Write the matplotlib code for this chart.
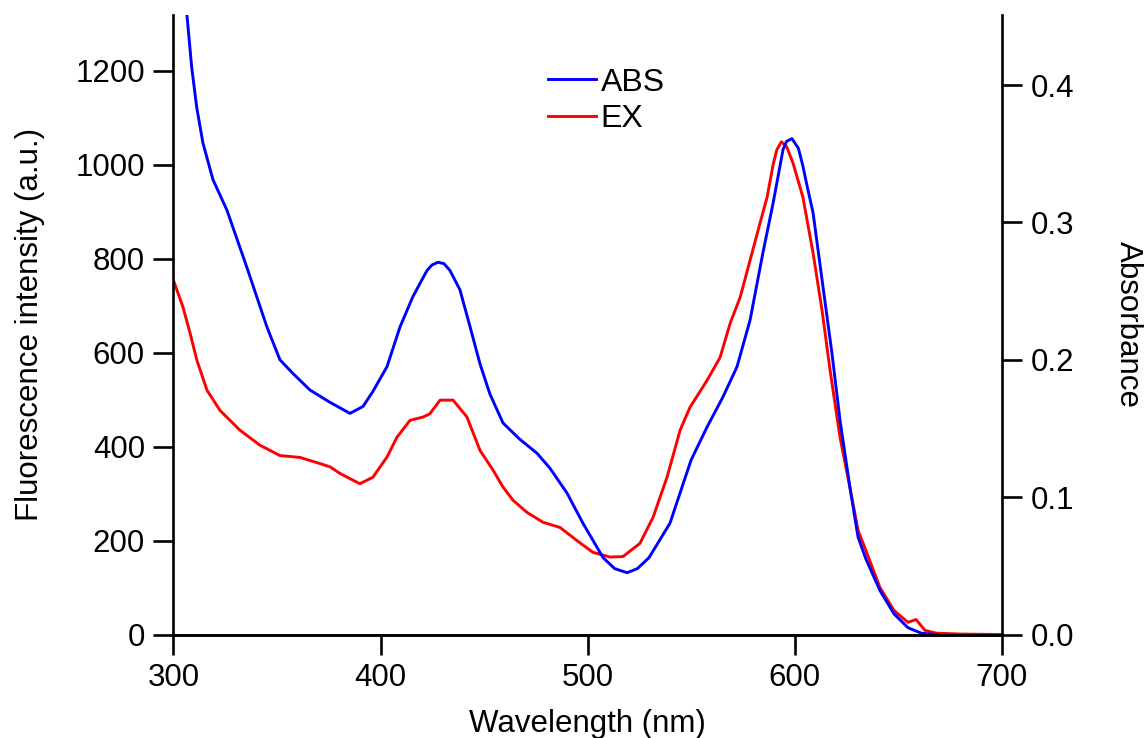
import numpy as np
import matplotlib
matplotlib.use("Agg")
import matplotlib.pyplot as plt

plt.rcParams['font.family'] = ['Liberation Sans', 'DejaVu Sans']

# absorbance spectrum (right axis)
abs_wl = [300, 303, 306.5, 308.8, 311.2, 314.2, 319.1, 325.8, 335.5, 345.1, 351.4, 357.7,
          365.9, 375.6, 385.2, 391.5, 396.3, 403.1, 409.4, 415.6, 422.4, 424.8, 427.7,
          430.6, 433.5, 438.3, 443.2, 448.0, 452.8, 459.1, 467.3, 475.5, 481.8, 490.0,
          497.7, 507.4, 513.0, 519.0, 524.0, 529.6, 539.7, 549.9, 557.6, 565.3,
          572.1, 578.4, 584.6, 589.5, 594.3, 596.0, 598.6, 601.7, 603.9, 605.7, 608.8,
          613.6, 617.9, 621.8, 626.6, 630.5, 634.3, 641.1, 647.9, 654.6, 661.0, 668.6]
abs_val = [0.58, 0.51, 0.451, 0.413, 0.384, 0.358, 0.331, 0.309, 0.267, 0.224, 0.200, 0.190,
           0.178, 0.169, 0.161, 0.166, 0.177, 0.195, 0.224, 0.246, 0.265, 0.269, 0.271,
           0.270, 0.265, 0.251, 0.224, 0.197, 0.175, 0.154, 0.142, 0.132, 0.121, 0.103,
           0.081, 0.056, 0.048, 0.045, 0.048, 0.056, 0.081, 0.127, 0.151, 0.173,
           0.195, 0.229, 0.278, 0.314, 0.353, 0.359, 0.361, 0.354, 0.341, 0.328, 0.307,
           0.253, 0.205, 0.156, 0.107, 0.071, 0.055, 0.032, 0.015, 0.005, 0.001, 0.0]

# excitation spectrum (left axis)
ex_wl = [300, 304.6, 308, 311.3, 316.2, 322.5, 332.1, 341.8, 351.4, 361.1, 370.7,
         375.6, 380.4, 390.0, 396.3, 403.1, 407.9, 414.2, 420.5, 423.8, 428.7,
         435.0, 441.7, 448.0, 454.3, 459.1, 463.9, 470.7, 478.4, 486.6, 494.8,
         502.5, 510.7, 517.0, 525.2, 531.5, 538.3, 544.6, 549.4, 557.6, 563.9,
         568.8, 573.6, 578.4, 583.2, 586.6, 589.5, 591.3, 593.5, 596.0, 599.1, 603.9,
         608.8, 613.1, 617.0, 621.8, 626.6, 630.5, 634.3, 641.1, 647.9, 654.6, 658.5,
         662.8, 668.1, 680, 700]
ex_val = [754, 697, 642, 584, 520, 477, 435, 403, 381, 377, 364,
          357, 343, 321, 335, 378, 420, 456, 463, 470, 499,
          499, 463, 392, 350, 314, 286, 260, 239, 228, 200,
          175, 165, 166, 194, 249, 335, 435, 484, 541, 590,
          663, 718, 797, 876, 931, 1000, 1032, 1049, 1039, 1004, 931,
          812, 691, 563, 420, 313, 222, 179, 100, 51, 26, 32,
          9, 3, 1, 0]

fig = plt.figure(figsize=(11.48, 7.38), dpi=100)
ax = fig.add_axes([0.1511, 0.1402, 0.7217, 0.8395])
ax2 = ax.twinx()

l1, = ax2.plot(abs_wl, abs_val, color='#0000ff', lw=2.1, label='ABS')
l2, = ax.plot(ex_wl, ex_val, color='#ff0000', lw=2.1, label='EX')

ax.set_xlim(300, 700)
ax.set_ylim(0, 1319)
ax2.set_ylim(0, 0.451)
ax.set_xticks([300, 400, 500, 600, 700])
ax.set_yticks([0, 200, 400, 600, 800, 1000, 1200])
ax2.set_yticks([0.0, 0.1, 0.2, 0.3, 0.4])
ax2.set_yticklabels(['0.0', '0.1', '0.2', '0.3', '0.4'])

for a in (ax, ax2):
    a.spines['top'].set_visible(False)
    for s in a.spines.values():
        s.set_linewidth(1.9)
    a.tick_params(direction='out', length=14.5, width=1.9, labelsize=22.5, pad=6)
ax2.spines['left'].set_visible(False)
ax.spines['right'].set_visible(False)

ax.set_xlabel('Wavelength (nm)', fontsize=22.5)
ax.set_ylabel('Fluorescence intensity (a.u.)', fontsize=22.5)
ax2.set_ylabel('Absorbance', fontsize=22.5, rotation=270)
ax.xaxis.set_label_coords(0.5, -0.12)
ax.yaxis.set_label_coords(-0.155, 0.5)
ax2.yaxis.set_label_coords(1.17, 0.5)

ax2.legend([l1, l2], ['ABS', 'EX'], loc='upper left', bbox_to_anchor=(0.452, 0.915),
           frameon=False, fontsize=23, handlelength=1.5, handletextpad=0.15,
           labelspacing=0.2, borderpad=0, borderaxespad=0)

fig.savefig('out.png', dpi=100)
